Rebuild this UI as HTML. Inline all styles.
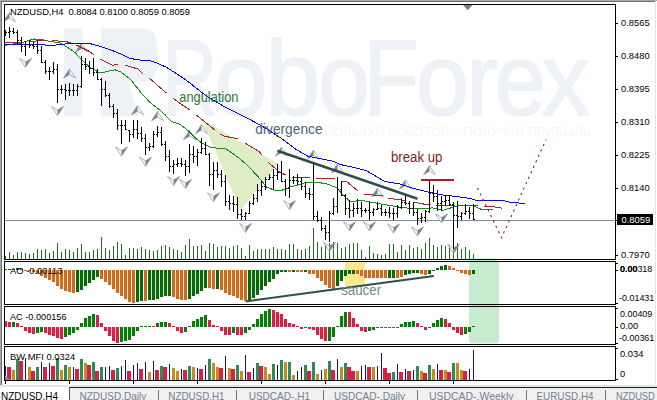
<!DOCTYPE html>
<html><head><meta charset="utf-8"><title>NZDUSD,H4</title>
<style>html,body{margin:0;padding:0;background:#fff;overflow:hidden}body{width:657px;height:400px;position:relative}</style>
</head><body>
<svg width="657" height="400" viewBox="0 0 657 400" style="display:block;position:absolute;left:0;top:0">
<rect x="0" y="0" width="657" height="400" fill="#fff"/>
<g fill="#eef1f5">
<rect x="64" y="28.5" width="18.5" height="87.5"/>
<path d="M101 28.5 H141 Q157 28.5 157 44.5 V66 Q157 82 141 82 H128 L139 116 H101 Z"/>
</g>
<g font-family="Liberation Sans, Arial, sans-serif" font-size="109.5" fill="#eef1f5" stroke="#eef1f5" stroke-width="1.6" stroke-linejoin="round">
<text transform="translate(162.52,115.2) scale(0.688,0.985)" x="0" y="0" vector-effect="non-scaling-stroke">R</text>
<text transform="translate(214.59,115.2) scale(0.873,0.93)" x="0" y="0" vector-effect="non-scaling-stroke">o</text>
<text transform="translate(265.59,115.2) scale(0.901,0.97)" x="0" y="0" vector-effect="non-scaling-stroke">b</text>
<text transform="translate(318.32,115.2) scale(0.844,0.93)" x="0" y="0" vector-effect="non-scaling-stroke">o</text>
<text transform="translate(363.55,115.2) scale(0.829,0.985)" x="0" y="0" vector-effect="non-scaling-stroke">F</text>
<text transform="translate(416.00,115.2) scale(0.869,0.93)" x="0" y="0" vector-effect="non-scaling-stroke">o</text>
<text transform="translate(466.54,115.2) scale(0.866,0.93)" x="0" y="0" vector-effect="non-scaling-stroke">r</text>
<text transform="translate(494.61,115.2) scale(0.845,0.93)" x="0" y="0" vector-effect="non-scaling-stroke">e</text>
<text transform="translate(541.65,115.2) scale(0.879,0.93)" x="0" y="0" vector-effect="non-scaling-stroke">x</text>
</g>
<text x="306" y="135.5" font-family="Liberation Sans, Arial, sans-serif" font-size="12.5" fill="#f5f6f9" textLength="285" lengthAdjust="spacingAndGlyphs">ИСПОЛЬЗУЙ РОБОТОВ – ПОЛУЧАЙ ПРИБЫЛЬ</text>
<polygon points="201.6,119.2 278,163.6 240.6,210.6" fill="#dfedc6"/>
<rect x="345" y="262" width="20" height="24.6" fill="#fde98c"/>
<rect x="469" y="258.4" width="30" height="85.2" rx="4" ry="4" fill="#c6ebcf"/>
<rect x="5" y="220" width="610" height="1" fill="#7a8da0"/>
<g fill="#1f6f1f" shape-rendering="crispEdges">
<rect x="5" y="256" width="1" height="3"/>
<rect x="9" y="252" width="1" height="7"/>
<rect x="13" y="255" width="1" height="4"/>
<rect x="17" y="252" width="1" height="7"/>
<rect x="21" y="252" width="1" height="7"/>
<rect x="25" y="253" width="1" height="6"/>
<rect x="29" y="254" width="1" height="5"/>
<rect x="33" y="253" width="1" height="6"/>
<rect x="37" y="249" width="1" height="10"/>
<rect x="41" y="250" width="1" height="9"/>
<rect x="45" y="249" width="1" height="10"/>
<rect x="49" y="253" width="1" height="6"/>
<rect x="53" y="251" width="1" height="8"/>
<rect x="57" y="243" width="1" height="16"/>
<rect x="61" y="252" width="1" height="7"/>
<rect x="65" y="249" width="1" height="10"/>
<rect x="69" y="250" width="1" height="9"/>
<rect x="73" y="252" width="1" height="7"/>
<rect x="77" y="248" width="1" height="11"/>
<rect x="81" y="244" width="1" height="15"/>
<rect x="85" y="252" width="1" height="7"/>
<rect x="89" y="252" width="1" height="7"/>
<rect x="93" y="250" width="1" height="9"/>
<rect x="97" y="249" width="1" height="10"/>
<rect x="101" y="237" width="1" height="22"/>
<rect x="105" y="248" width="1" height="11"/>
<rect x="109" y="250" width="1" height="9"/>
<rect x="113" y="246" width="1" height="13"/>
<rect x="117" y="242" width="1" height="17"/>
<rect x="121" y="244" width="1" height="15"/>
<rect x="125" y="255" width="1" height="4"/>
<rect x="129" y="248" width="1" height="11"/>
<rect x="133" y="248" width="1" height="11"/>
<rect x="137" y="249" width="1" height="10"/>
<rect x="141" y="247" width="1" height="12"/>
<rect x="145" y="249" width="1" height="10"/>
<rect x="149" y="250" width="1" height="9"/>
<rect x="153" y="251" width="1" height="8"/>
<rect x="157" y="250" width="1" height="9"/>
<rect x="161" y="246" width="1" height="13"/>
<rect x="165" y="245" width="1" height="14"/>
<rect x="169" y="247" width="1" height="12"/>
<rect x="173" y="249" width="1" height="10"/>
<rect x="177" y="250" width="1" height="9"/>
<rect x="181" y="252" width="1" height="7"/>
<rect x="185" y="245" width="1" height="14"/>
<rect x="189" y="239" width="1" height="20"/>
<rect x="193" y="246" width="1" height="13"/>
<rect x="197" y="246" width="1" height="13"/>
<rect x="201" y="245" width="1" height="14"/>
<rect x="205" y="251" width="1" height="8"/>
<rect x="209" y="243" width="1" height="16"/>
<rect x="213" y="244" width="1" height="15"/>
<rect x="217" y="247" width="1" height="12"/>
<rect x="221" y="246" width="1" height="13"/>
<rect x="225" y="246" width="1" height="13"/>
<rect x="229" y="248" width="1" height="11"/>
<rect x="233" y="246" width="1" height="13"/>
<rect x="237" y="245" width="1" height="14"/>
<rect x="241" y="248" width="1" height="11"/>
<rect x="245" y="256" width="1" height="3"/>
<rect x="249" y="245" width="1" height="14"/>
<rect x="253" y="251" width="1" height="8"/>
<rect x="257" y="249" width="1" height="10"/>
<rect x="261" y="249" width="1" height="10"/>
<rect x="265" y="249" width="1" height="10"/>
<rect x="269" y="249" width="1" height="10"/>
<rect x="273" y="247" width="1" height="12"/>
<rect x="277" y="249" width="1" height="10"/>
<rect x="281" y="249" width="1" height="10"/>
<rect x="285" y="250" width="1" height="9"/>
<rect x="289" y="244" width="1" height="15"/>
<rect x="293" y="244" width="1" height="15"/>
<rect x="297" y="249" width="1" height="10"/>
<rect x="301" y="250" width="1" height="9"/>
<rect x="305" y="249" width="1" height="10"/>
<rect x="309" y="246" width="1" height="13"/>
<rect x="313" y="228" width="1" height="31"/>
<rect x="317" y="242" width="1" height="17"/>
<rect x="321" y="247" width="1" height="12"/>
<rect x="325" y="245" width="1" height="14"/>
<rect x="329" y="243" width="1" height="16"/>
<rect x="333" y="242" width="1" height="17"/>
<rect x="337" y="243" width="1" height="16"/>
<rect x="341" y="248" width="1" height="11"/>
<rect x="345" y="247" width="1" height="12"/>
<rect x="349" y="244" width="1" height="15"/>
<rect x="353" y="243" width="1" height="16"/>
<rect x="357" y="243" width="1" height="16"/>
<rect x="361" y="250" width="1" height="9"/>
<rect x="365" y="257" width="1" height="2"/>
<rect x="369" y="246" width="1" height="13"/>
<rect x="373" y="253" width="1" height="6"/>
<rect x="377" y="254" width="1" height="5"/>
<rect x="381" y="255" width="1" height="4"/>
<rect x="385" y="254" width="1" height="5"/>
<rect x="389" y="244" width="1" height="15"/>
<rect x="393" y="244" width="1" height="15"/>
<rect x="397" y="252" width="1" height="7"/>
<rect x="401" y="245" width="1" height="14"/>
<rect x="405" y="250" width="1" height="9"/>
<rect x="409" y="245" width="1" height="14"/>
<rect x="413" y="248" width="1" height="11"/>
<rect x="417" y="247" width="1" height="12"/>
<rect x="421" y="249" width="1" height="10"/>
<rect x="425" y="243" width="1" height="16"/>
<rect x="429" y="238" width="1" height="21"/>
<rect x="433" y="245" width="1" height="14"/>
<rect x="437" y="247" width="1" height="12"/>
<rect x="441" y="245" width="1" height="14"/>
<rect x="445" y="246" width="1" height="13"/>
<rect x="449" y="245" width="1" height="14"/>
<rect x="453" y="243" width="1" height="16"/>
<rect x="457" y="243" width="1" height="16"/>
<rect x="461" y="249" width="1" height="10"/>
<rect x="465" y="247" width="1" height="12"/>
<rect x="469" y="250" width="1" height="9"/>
<rect x="473" y="254" width="1" height="5"/>
</g>
<clipPath id="cc"><rect x="5" y="5" width="610" height="254"/></clipPath><g clip-path="url(#cc)">
<polygon points="9.5,12.5 15.5,21.6 9.5,18.1" fill="#f7f8fa"/><polygon points="9.5,12.5 3.5,21.6 9.5,18.1" fill="#7c8089"/><polygon points="9.5,12.5 3.5,21.6 9.5,18.1 15.5,21.6" fill="none" stroke="#80848e" stroke-width="0.6" stroke-linejoin="round"/>
<polygon points="69.5,69 75.5,78.1 69.5,74.6" fill="#f7f8fa"/><polygon points="69.5,69 63.5,78.1 69.5,74.6" fill="#7c8089"/><polygon points="69.5,69 63.5,78.1 69.5,74.6 75.5,78.1" fill="none" stroke="#80848e" stroke-width="0.6" stroke-linejoin="round"/>
<polygon points="81.5,43 87.5,52.1 81.5,48.6" fill="#f7f8fa"/><polygon points="81.5,43 75.5,52.1 81.5,48.6" fill="#7c8089"/><polygon points="81.5,43 75.5,52.1 81.5,48.6 87.5,52.1" fill="none" stroke="#80848e" stroke-width="0.6" stroke-linejoin="round"/>
<polygon points="137.5,105.6 143.5,114.69999999999999 137.5,111.19999999999999" fill="#f7f8fa"/><polygon points="137.5,105.6 131.5,114.69999999999999 137.5,111.19999999999999" fill="#7c8089"/><polygon points="137.5,105.6 131.5,114.69999999999999 137.5,111.19999999999999 143.5,114.69999999999999" fill="none" stroke="#80848e" stroke-width="0.6" stroke-linejoin="round"/>
<polygon points="157.5,111.6 163.5,120.69999999999999 157.5,117.19999999999999" fill="#f7f8fa"/><polygon points="157.5,111.6 151.5,120.69999999999999 157.5,117.19999999999999" fill="#7c8089"/><polygon points="157.5,111.6 151.5,120.69999999999999 157.5,117.19999999999999 163.5,120.69999999999999" fill="none" stroke="#80848e" stroke-width="0.6" stroke-linejoin="round"/>
<polygon points="189.5,130.5 195.5,139.6 189.5,136.1" fill="#f7f8fa"/><polygon points="189.5,130.5 183.5,139.6 189.5,136.1" fill="#7c8089"/><polygon points="189.5,130.5 183.5,139.6 189.5,136.1 195.5,139.6" fill="none" stroke="#80848e" stroke-width="0.6" stroke-linejoin="round"/>
<polygon points="201.5,124.5 207.5,133.6 201.5,130.1" fill="#f7f8fa"/><polygon points="201.5,124.5 195.5,133.6 201.5,130.1" fill="#7c8089"/><polygon points="201.5,124.5 195.5,133.6 201.5,130.1 207.5,133.6" fill="none" stroke="#80848e" stroke-width="0.6" stroke-linejoin="round"/>
<polygon points="281.5,147 287.5,156.1 281.5,152.6" fill="#f7f8fa"/><polygon points="281.5,147 275.5,156.1 281.5,152.6" fill="#7c8089"/><polygon points="281.5,147 275.5,156.1 281.5,152.6 287.5,156.1" fill="none" stroke="#80848e" stroke-width="0.6" stroke-linejoin="round"/>
<polygon points="313.5,150 319.5,159.1 313.5,155.6" fill="#f7f8fa"/><polygon points="313.5,150 307.5,159.1 313.5,155.6" fill="#7c8089"/><polygon points="313.5,150 307.5,159.1 313.5,155.6 319.5,159.1" fill="none" stroke="#80848e" stroke-width="0.6" stroke-linejoin="round"/>
<polygon points="337.5,163.7 343.5,172.79999999999998 337.5,169.29999999999998" fill="#f7f8fa"/><polygon points="337.5,163.7 331.5,172.79999999999998 337.5,169.29999999999998" fill="#7c8089"/><polygon points="337.5,163.7 331.5,172.79999999999998 337.5,169.29999999999998 343.5,172.79999999999998" fill="none" stroke="#80848e" stroke-width="0.6" stroke-linejoin="round"/>
<polygon points="377.5,188 383.5,197.1 377.5,193.6" fill="#f7f8fa"/><polygon points="377.5,188 371.5,197.1 377.5,193.6" fill="#7c8089"/><polygon points="377.5,188 371.5,197.1 377.5,193.6 383.5,197.1" fill="none" stroke="#80848e" stroke-width="0.6" stroke-linejoin="round"/>
<polygon points="405.5,179.8 411.5,188.9 405.5,185.4" fill="#f7f8fa"/><polygon points="405.5,179.8 399.5,188.9 405.5,185.4" fill="#7c8089"/><polygon points="405.5,179.8 399.5,188.9 405.5,185.4 411.5,188.9" fill="none" stroke="#80848e" stroke-width="0.6" stroke-linejoin="round"/>
<polygon points="429.5,165.6 435.5,174.7 429.5,171.2" fill="#f7f8fa"/><polygon points="429.5,165.6 423.5,174.7 429.5,171.2" fill="#7c8089"/><polygon points="429.5,165.6 423.5,174.7 429.5,171.2 435.5,174.7" fill="none" stroke="#80848e" stroke-width="0.6" stroke-linejoin="round"/>
<polygon points="25.5,67.5 19.5,58.4 25.5,61.9" fill="#f7f8fa"/><polygon points="25.5,67.5 31.5,58.4 25.5,61.9" fill="#7c8089"/><polygon points="25.5,67.5 19.5,58.4 25.5,61.9 31.5,58.4" fill="none" stroke="#80848e" stroke-width="0.6" stroke-linejoin="round"/>
<polygon points="57.5,115.6 51.5,106.5 57.5,110.0" fill="#f7f8fa"/><polygon points="57.5,115.6 63.5,106.5 57.5,110.0" fill="#7c8089"/><polygon points="57.5,115.6 51.5,106.5 57.5,110.0 63.5,106.5" fill="none" stroke="#80848e" stroke-width="0.6" stroke-linejoin="round"/>
<polygon points="121.5,156.1 115.5,147.0 121.5,150.5" fill="#f7f8fa"/><polygon points="121.5,156.1 127.5,147.0 121.5,150.5" fill="#7c8089"/><polygon points="121.5,156.1 115.5,147.0 121.5,150.5 127.5,147.0" fill="none" stroke="#80848e" stroke-width="0.6" stroke-linejoin="round"/>
<polygon points="145.5,166.3 139.5,157.20000000000002 145.5,160.70000000000002" fill="#f7f8fa"/><polygon points="145.5,166.3 151.5,157.20000000000002 145.5,160.70000000000002" fill="#7c8089"/><polygon points="145.5,166.3 139.5,157.20000000000002 145.5,160.70000000000002 151.5,157.20000000000002" fill="none" stroke="#80848e" stroke-width="0.6" stroke-linejoin="round"/>
<polygon points="173.5,185.5 167.5,176.4 173.5,179.9" fill="#f7f8fa"/><polygon points="173.5,185.5 179.5,176.4 173.5,179.9" fill="#7c8089"/><polygon points="173.5,185.5 167.5,176.4 173.5,179.9 179.5,176.4" fill="none" stroke="#80848e" stroke-width="0.6" stroke-linejoin="round"/>
<polygon points="185.5,188.5 179.5,179.4 185.5,182.9" fill="#f7f8fa"/><polygon points="185.5,188.5 191.5,179.4 185.5,182.9" fill="#7c8089"/><polygon points="185.5,188.5 179.5,179.4 185.5,182.9 191.5,179.4" fill="none" stroke="#80848e" stroke-width="0.6" stroke-linejoin="round"/>
<polygon points="213.5,201.8 207.5,192.70000000000002 213.5,196.20000000000002" fill="#f7f8fa"/><polygon points="213.5,201.8 219.5,192.70000000000002 213.5,196.20000000000002" fill="#7c8089"/><polygon points="213.5,201.8 207.5,192.70000000000002 213.5,196.20000000000002 219.5,192.70000000000002" fill="none" stroke="#80848e" stroke-width="0.6" stroke-linejoin="round"/>
<polygon points="245.5,232.5 239.5,223.4 245.5,226.9" fill="#f7f8fa"/><polygon points="245.5,232.5 251.5,223.4 245.5,226.9" fill="#7c8089"/><polygon points="245.5,232.5 239.5,223.4 245.5,226.9 251.5,223.4" fill="none" stroke="#80848e" stroke-width="0.6" stroke-linejoin="round"/>
<polygon points="289.5,209.7 283.5,200.6 289.5,204.1" fill="#f7f8fa"/><polygon points="289.5,209.7 295.5,200.6 289.5,204.1" fill="#7c8089"/><polygon points="289.5,209.7 283.5,200.6 289.5,204.1 295.5,200.6" fill="none" stroke="#80848e" stroke-width="0.6" stroke-linejoin="round"/>
<polygon points="329.5,251.5 323.5,242.4 329.5,245.9" fill="#f7f8fa"/><polygon points="329.5,251.5 335.5,242.4 329.5,245.9" fill="#7c8089"/><polygon points="329.5,251.5 323.5,242.4 329.5,245.9 335.5,242.4" fill="none" stroke="#80848e" stroke-width="0.6" stroke-linejoin="round"/>
<polygon points="349.5,231 343.5,221.9 349.5,225.4" fill="#f7f8fa"/><polygon points="349.5,231 355.5,221.9 349.5,225.4" fill="#7c8089"/><polygon points="349.5,231 343.5,221.9 349.5,225.4 355.5,221.9" fill="none" stroke="#80848e" stroke-width="0.6" stroke-linejoin="round"/>
<polygon points="369.5,231 363.5,221.9 369.5,225.4" fill="#f7f8fa"/><polygon points="369.5,231 375.5,221.9 369.5,225.4" fill="#7c8089"/><polygon points="369.5,231 363.5,221.9 369.5,225.4 375.5,221.9" fill="none" stroke="#80848e" stroke-width="0.6" stroke-linejoin="round"/>
<polygon points="393.5,233 387.5,223.9 393.5,227.4" fill="#f7f8fa"/><polygon points="393.5,233 399.5,223.9 393.5,227.4" fill="#7c8089"/><polygon points="393.5,233 387.5,223.9 393.5,227.4 399.5,223.9" fill="none" stroke="#80848e" stroke-width="0.6" stroke-linejoin="round"/>
<polygon points="417.5,236 411.5,226.9 417.5,230.4" fill="#f7f8fa"/><polygon points="417.5,236 423.5,226.9 417.5,230.4" fill="#7c8089"/><polygon points="417.5,236 411.5,226.9 417.5,230.4 423.5,226.9" fill="none" stroke="#80848e" stroke-width="0.6" stroke-linejoin="round"/>
<polygon points="441.5,223 435.5,213.9 441.5,217.4" fill="#f7f8fa"/><polygon points="441.5,223 447.5,213.9 441.5,217.4" fill="#7c8089"/><polygon points="441.5,223 435.5,213.9 441.5,217.4 447.5,213.9" fill="none" stroke="#80848e" stroke-width="0.6" stroke-linejoin="round"/>
<polygon points="453.5,253.5 447.5,244.4 453.5,247.9" fill="#f7f8fa"/><polygon points="453.5,253.5 459.5,244.4 453.5,247.9" fill="#7c8089"/><polygon points="453.5,253.5 447.5,244.4 453.5,247.9 459.5,244.4" fill="none" stroke="#80848e" stroke-width="0.6" stroke-linejoin="round"/>
</g>
<polyline points="5.3,45.8 9,44.3 19.5,43.5 28.5,40.5 34.5,39 40.5,39.3 49.5,41.3 60,42.8 67.5,47.3 75,52.5 80,58 89.1,66.7 98.3,72.1 104.4,72.1 115,69.8 121.1,72.1 130.2,78.9 140.9,92.6 150,102.5 159.1,109.4 165,114.7 171.3,121.3 180,124.4 187.3,130 195.7,138.4 201.8,142.9 210.9,147.5 226.1,149 235.2,155.1 244.4,162.7 250,168 260.9,179.8 267,187.4 274.6,190.1 282.2,190.1 291.3,186.6 300,184.4 302.2,183.2 315.9,182 328,184.2 337.2,188 343.3,195.7 350.9,201.8 361.5,200.2 369.1,201.8 381.3,204 390,205.6 405.2,207.9 420.4,209 432.6,207.9 443.3,210.2 450.9,207.9 458.5,205.7 468.1,205.2 473.8,206 479.5,208.9 486,209.6 493.3,209.6" fill="none" stroke="#1a8a1a" stroke-width="1" shape-rendering="crispEdges"/>
<polyline points="5.3,42.5 12,42.8 22.5,42.3" fill="none" stroke="#a3262a" stroke-width="1" shape-rendering="crispEdges"/>
<polyline points="28.5,42.1 30,42 39,40.5 45,40.8 46.5,40.6" fill="none" stroke="#a3262a" stroke-width="1" shape-rendering="crispEdges"/>
<polyline points="52.5,40.4 67.5,42 70.5,43.0" fill="none" stroke="#a3262a" stroke-width="1" shape-rendering="crispEdges"/>
<polyline points="76.5,45.2 78,45.8 90,51.8 94.5,55.2" fill="none" stroke="#a3262a" stroke-width="1" shape-rendering="crispEdges"/>
<polyline points="100.5,59.4 112.7,65.2 118.5,64.5" fill="none" stroke="#a3262a" stroke-width="1" shape-rendering="crispEdges"/>
<polyline points="124.5,65.2 124.9,65.2 137.8,69 142.4,73.6 142.5,73.7" fill="none" stroke="#a3262a" stroke-width="1" shape-rendering="crispEdges"/>
<polyline points="148.5,77.7 149.3,78.2 166.5,93.1" fill="none" stroke="#a3262a" stroke-width="1" shape-rendering="crispEdges"/>
<polyline points="172.5,97.8 172.8,98 180,103.3 190.1,110.1 190.5,110.4" fill="none" stroke="#a3262a" stroke-width="1" shape-rendering="crispEdges"/>
<polyline points="196.5,115.2 197,115.6 210.7,126.6 214.5,129.8" fill="none" stroke="#a3262a" stroke-width="1" shape-rendering="crispEdges"/>
<polyline points="220.5,134.2 224.4,136.2 238.1,138.9 238.5,139.1" fill="none" stroke="#a3262a" stroke-width="1" shape-rendering="crispEdges"/>
<polyline points="244.5,142.8 244.9,143 250,146.2 259.1,151.5 262.5,155.4" fill="none" stroke="#a3262a" stroke-width="1" shape-rendering="crispEdges"/>
<polyline points="268.5,162.2 269.8,163.7 280.4,172.8 286.5,175.1" fill="none" stroke="#a3262a" stroke-width="1" shape-rendering="crispEdges"/>
<polyline points="292.5,177.4 292.8,177.5 300,178 310.5,177.4" fill="none" stroke="#a3262a" stroke-width="1" shape-rendering="crispEdges"/>
<polyline points="316.5,178.1 317.4,178.2 334.1,178.9 334.5,179.0" fill="none" stroke="#a3262a" stroke-width="1" shape-rendering="crispEdges"/>
<polyline points="340.5,180.8 341.8,181.2 346.3,181.2 358.5,191.4" fill="none" stroke="#a3262a" stroke-width="1" shape-rendering="crispEdges"/>
<polyline points="364.5,194.0 365.3,194.4 382.5,195.7" fill="none" stroke="#a3262a" stroke-width="1" shape-rendering="crispEdges"/>
<polyline points="388.5,198.1 389.1,198.4 399,199.6 405.2,201.1 406.5,201.2" fill="none" stroke="#a3262a" stroke-width="1" shape-rendering="crispEdges"/>
<polyline points="412.5,201.9 412.8,201.9 428,204.9 430.5,205.0" fill="none" stroke="#a3262a" stroke-width="1" shape-rendering="crispEdges"/>
<polyline points="436.5,205.3 438.7,205.4 450.9,205.7 454.5,205.7" fill="none" stroke="#a3262a" stroke-width="1" shape-rendering="crispEdges"/>
<polyline points="460.5,205.7 461.5,205.7 478.5,205.2" fill="none" stroke="#a3262a" stroke-width="1" shape-rendering="crispEdges"/>
<polyline points="484.5,206.1 486,206.3 498.2,207.3 502.5,208.4" fill="none" stroke="#a3262a" stroke-width="1" shape-rendering="crispEdges"/>
<polyline points="5,44.5 30,44.7 54,45.2 60,44.5 72,43.3 83,43.2 90,43.6 100.5,46.5 111.2,50 120.6,54 129.5,58.4 140,60 148.5,60 157,63 166.8,67.5 180,75.9 186,80 205.2,95.1 223,106 242.2,115.6 250,119.6 265.2,127.9 280.4,137.8 295.7,149.2 307.8,156.1 318.5,158.4 333.7,161.4 340.2,164.5 353.9,167.5 366.1,170.5 375.2,175.9 384.4,181.2 390,182.5 399.1,183.6 412.8,188.2 428,192 443.3,195 458.5,196.8 471.4,198.7 476.3,200.3 502.3,200.3 508.8,202 525,203.6" fill="none" stroke="#0a0ae0" stroke-width="1" shape-rendering="crispEdges"/>
<g fill="#000" shape-rendering="crispEdges">
<rect x="5" y="30" width="1" height="6"/>
<rect x="4" y="32" width="1" height="1"/>
<rect x="6" y="32" width="1" height="1"/>
<rect x="9" y="27" width="1" height="11"/>
<rect x="8" y="32" width="1" height="1"/>
<rect x="10" y="31" width="1" height="1"/>
<rect x="13" y="28" width="1" height="6"/>
<rect x="12" y="31" width="1" height="1"/>
<rect x="14" y="32" width="1" height="1"/>
<rect x="17" y="30" width="1" height="14"/>
<rect x="16" y="32" width="1" height="1"/>
<rect x="18" y="40" width="1" height="1"/>
<rect x="21" y="37" width="1" height="15"/>
<rect x="20" y="40" width="1" height="1"/>
<rect x="22" y="46" width="1" height="1"/>
<rect x="25" y="41" width="1" height="15"/>
<rect x="24" y="46" width="1" height="1"/>
<rect x="26" y="44" width="1" height="1"/>
<rect x="29" y="40" width="1" height="8"/>
<rect x="28" y="44" width="1" height="1"/>
<rect x="30" y="45" width="1" height="1"/>
<rect x="33" y="42" width="1" height="7"/>
<rect x="32" y="45" width="1" height="1"/>
<rect x="34" y="46" width="1" height="1"/>
<rect x="37" y="40" width="1" height="14"/>
<rect x="36" y="46" width="1" height="1"/>
<rect x="38" y="50" width="1" height="1"/>
<rect x="41" y="46" width="1" height="17"/>
<rect x="40" y="50" width="1" height="1"/>
<rect x="42" y="62" width="1" height="1"/>
<rect x="45" y="60" width="1" height="14"/>
<rect x="44" y="62" width="1" height="1"/>
<rect x="46" y="71" width="1" height="1"/>
<rect x="49" y="67" width="1" height="13"/>
<rect x="48" y="71" width="1" height="1"/>
<rect x="50" y="71" width="1" height="1"/>
<rect x="53" y="62" width="1" height="12"/>
<rect x="52" y="71" width="1" height="1"/>
<rect x="54" y="69" width="1" height="1"/>
<rect x="57" y="64" width="1" height="39"/>
<rect x="56" y="69" width="1" height="1"/>
<rect x="58" y="89" width="1" height="1"/>
<rect x="61" y="85" width="1" height="9"/>
<rect x="60" y="89" width="1" height="1"/>
<rect x="62" y="89" width="1" height="1"/>
<rect x="65" y="84" width="1" height="16"/>
<rect x="64" y="89" width="1" height="1"/>
<rect x="66" y="90" width="1" height="1"/>
<rect x="69" y="83" width="1" height="13"/>
<rect x="68" y="90" width="1" height="1"/>
<rect x="70" y="90" width="1" height="1"/>
<rect x="73" y="84" width="1" height="12"/>
<rect x="72" y="90" width="1" height="1"/>
<rect x="74" y="90" width="1" height="1"/>
<rect x="77" y="84" width="1" height="12"/>
<rect x="76" y="90" width="1" height="1"/>
<rect x="78" y="86" width="1" height="1"/>
<rect x="81" y="56" width="1" height="32"/>
<rect x="80" y="86" width="1" height="1"/>
<rect x="82" y="64" width="1" height="1"/>
<rect x="85" y="58" width="1" height="12"/>
<rect x="84" y="64" width="1" height="1"/>
<rect x="86" y="66" width="1" height="1"/>
<rect x="89" y="61" width="1" height="13"/>
<rect x="88" y="66" width="1" height="1"/>
<rect x="90" y="68" width="1" height="1"/>
<rect x="93" y="58" width="1" height="18"/>
<rect x="92" y="68" width="1" height="1"/>
<rect x="94" y="72" width="1" height="1"/>
<rect x="97" y="69" width="1" height="11"/>
<rect x="96" y="72" width="1" height="1"/>
<rect x="98" y="79" width="1" height="1"/>
<rect x="101" y="78" width="1" height="28"/>
<rect x="100" y="79" width="1" height="1"/>
<rect x="102" y="89" width="1" height="1"/>
<rect x="105" y="81" width="1" height="16"/>
<rect x="104" y="89" width="1" height="1"/>
<rect x="106" y="95" width="1" height="1"/>
<rect x="109" y="93" width="1" height="15"/>
<rect x="108" y="95" width="1" height="1"/>
<rect x="110" y="106" width="1" height="1"/>
<rect x="113" y="104" width="1" height="14"/>
<rect x="112" y="106" width="1" height="1"/>
<rect x="114" y="113" width="1" height="1"/>
<rect x="117" y="109" width="1" height="21"/>
<rect x="116" y="113" width="1" height="1"/>
<rect x="118" y="125" width="1" height="1"/>
<rect x="121" y="120" width="1" height="24"/>
<rect x="120" y="125" width="1" height="1"/>
<rect x="122" y="125" width="1" height="1"/>
<rect x="125" y="120" width="1" height="10"/>
<rect x="124" y="125" width="1" height="1"/>
<rect x="126" y="129" width="1" height="1"/>
<rect x="129" y="130" width="1" height="12"/>
<rect x="128" y="130" width="1" height="1"/>
<rect x="130" y="134" width="1" height="1"/>
<rect x="133" y="120" width="1" height="18"/>
<rect x="132" y="134" width="1" height="1"/>
<rect x="134" y="129" width="1" height="1"/>
<rect x="137" y="120" width="1" height="19"/>
<rect x="136" y="129" width="1" height="1"/>
<rect x="138" y="133" width="1" height="1"/>
<rect x="141" y="127" width="1" height="15"/>
<rect x="140" y="133" width="1" height="1"/>
<rect x="142" y="138" width="1" height="1"/>
<rect x="145" y="134" width="1" height="21"/>
<rect x="144" y="138" width="1" height="1"/>
<rect x="146" y="147" width="1" height="1"/>
<rect x="149" y="143" width="1" height="8"/>
<rect x="148" y="147" width="1" height="1"/>
<rect x="150" y="146" width="1" height="1"/>
<rect x="153" y="131" width="1" height="17"/>
<rect x="152" y="146" width="1" height="1"/>
<rect x="154" y="134" width="1" height="1"/>
<rect x="157" y="126" width="1" height="11"/>
<rect x="156" y="134" width="1" height="1"/>
<rect x="158" y="132" width="1" height="1"/>
<rect x="161" y="127" width="1" height="19"/>
<rect x="160" y="132" width="1" height="1"/>
<rect x="162" y="144" width="1" height="1"/>
<rect x="165" y="141" width="1" height="20"/>
<rect x="164" y="144" width="1" height="1"/>
<rect x="166" y="156" width="1" height="1"/>
<rect x="169" y="150" width="1" height="22"/>
<rect x="168" y="156" width="1" height="1"/>
<rect x="170" y="166" width="1" height="1"/>
<rect x="173" y="160" width="1" height="14"/>
<rect x="172" y="166" width="1" height="1"/>
<rect x="174" y="164" width="1" height="1"/>
<rect x="177" y="158" width="1" height="9"/>
<rect x="176" y="164" width="1" height="1"/>
<rect x="178" y="163" width="1" height="1"/>
<rect x="181" y="158" width="1" height="9"/>
<rect x="180" y="163" width="1" height="1"/>
<rect x="182" y="164" width="1" height="1"/>
<rect x="185" y="160" width="1" height="16"/>
<rect x="184" y="164" width="1" height="1"/>
<rect x="186" y="166" width="1" height="1"/>
<rect x="189" y="144" width="1" height="29"/>
<rect x="188" y="166" width="1" height="1"/>
<rect x="190" y="154" width="1" height="1"/>
<rect x="193" y="146" width="1" height="17"/>
<rect x="192" y="154" width="1" height="1"/>
<rect x="194" y="156" width="1" height="1"/>
<rect x="197" y="149" width="1" height="17"/>
<rect x="196" y="156" width="1" height="1"/>
<rect x="198" y="152" width="1" height="1"/>
<rect x="201" y="138" width="1" height="16"/>
<rect x="200" y="152" width="1" height="1"/>
<rect x="202" y="148" width="1" height="1"/>
<rect x="205" y="142" width="1" height="13"/>
<rect x="204" y="148" width="1" height="1"/>
<rect x="206" y="154" width="1" height="1"/>
<rect x="209" y="153" width="1" height="33"/>
<rect x="208" y="154" width="1" height="1"/>
<rect x="210" y="174" width="1" height="1"/>
<rect x="213" y="162" width="1" height="28"/>
<rect x="212" y="174" width="1" height="1"/>
<rect x="214" y="170" width="1" height="1"/>
<rect x="217" y="162" width="1" height="16"/>
<rect x="216" y="170" width="1" height="1"/>
<rect x="218" y="174" width="1" height="1"/>
<rect x="221" y="170" width="1" height="17"/>
<rect x="220" y="174" width="1" height="1"/>
<rect x="222" y="181" width="1" height="1"/>
<rect x="225" y="175" width="1" height="31"/>
<rect x="224" y="181" width="1" height="1"/>
<rect x="226" y="201" width="1" height="1"/>
<rect x="229" y="195" width="1" height="15"/>
<rect x="228" y="201" width="1" height="1"/>
<rect x="230" y="203" width="1" height="1"/>
<rect x="233" y="196" width="1" height="16"/>
<rect x="232" y="203" width="1" height="1"/>
<rect x="234" y="204" width="1" height="1"/>
<rect x="237" y="197" width="1" height="22"/>
<rect x="236" y="204" width="1" height="1"/>
<rect x="238" y="214" width="1" height="1"/>
<rect x="241" y="209" width="1" height="11"/>
<rect x="240" y="214" width="1" height="1"/>
<rect x="242" y="216" width="1" height="1"/>
<rect x="245" y="212" width="1" height="8"/>
<rect x="244" y="216" width="1" height="1"/>
<rect x="246" y="213" width="1" height="1"/>
<rect x="249" y="201" width="1" height="13"/>
<rect x="248" y="213" width="1" height="1"/>
<rect x="250" y="203" width="1" height="1"/>
<rect x="253" y="194" width="1" height="11"/>
<rect x="252" y="203" width="1" height="1"/>
<rect x="254" y="198" width="1" height="1"/>
<rect x="257" y="184" width="1" height="18"/>
<rect x="256" y="198" width="1" height="1"/>
<rect x="258" y="190" width="1" height="1"/>
<rect x="261" y="181" width="1" height="15"/>
<rect x="260" y="190" width="1" height="1"/>
<rect x="262" y="186" width="1" height="1"/>
<rect x="265" y="177" width="1" height="13"/>
<rect x="264" y="186" width="1" height="1"/>
<rect x="266" y="179" width="1" height="1"/>
<rect x="269" y="174" width="1" height="6"/>
<rect x="268" y="179" width="1" height="1"/>
<rect x="270" y="177" width="1" height="1"/>
<rect x="273" y="169" width="1" height="21"/>
<rect x="272" y="177" width="1" height="1"/>
<rect x="274" y="175" width="1" height="1"/>
<rect x="277" y="164" width="1" height="16"/>
<rect x="276" y="175" width="1" height="1"/>
<rect x="278" y="172" width="1" height="1"/>
<rect x="281" y="161" width="1" height="21"/>
<rect x="280" y="172" width="1" height="1"/>
<rect x="282" y="181" width="1" height="1"/>
<rect x="285" y="179" width="1" height="17"/>
<rect x="284" y="181" width="1" height="1"/>
<rect x="286" y="188" width="1" height="1"/>
<rect x="289" y="169" width="1" height="29"/>
<rect x="288" y="188" width="1" height="1"/>
<rect x="290" y="180" width="1" height="1"/>
<rect x="293" y="176" width="1" height="8"/>
<rect x="292" y="180" width="1" height="1"/>
<rect x="294" y="180" width="1" height="1"/>
<rect x="297" y="174" width="1" height="11"/>
<rect x="296" y="180" width="1" height="1"/>
<rect x="298" y="181" width="1" height="1"/>
<rect x="301" y="177" width="1" height="13"/>
<rect x="300" y="181" width="1" height="1"/>
<rect x="302" y="186" width="1" height="1"/>
<rect x="305" y="182" width="1" height="16"/>
<rect x="304" y="186" width="1" height="1"/>
<rect x="306" y="193" width="1" height="1"/>
<rect x="309" y="188" width="1" height="12"/>
<rect x="308" y="193" width="1" height="1"/>
<rect x="310" y="194" width="1" height="1"/>
<rect x="313" y="164" width="1" height="56"/>
<rect x="312" y="194" width="1" height="1"/>
<rect x="314" y="216" width="1" height="1"/>
<rect x="317" y="211" width="1" height="11"/>
<rect x="316" y="216" width="1" height="1"/>
<rect x="318" y="220" width="1" height="1"/>
<rect x="321" y="217" width="1" height="14"/>
<rect x="320" y="220" width="1" height="1"/>
<rect x="322" y="228" width="1" height="1"/>
<rect x="325" y="225" width="1" height="15"/>
<rect x="324" y="228" width="1" height="1"/>
<rect x="326" y="232" width="1" height="1"/>
<rect x="329" y="211" width="1" height="31"/>
<rect x="328" y="232" width="1" height="1"/>
<rect x="330" y="213" width="1" height="1"/>
<rect x="333" y="198" width="1" height="17"/>
<rect x="332" y="213" width="1" height="1"/>
<rect x="334" y="206" width="1" height="1"/>
<rect x="337" y="177" width="1" height="36"/>
<rect x="336" y="206" width="1" height="1"/>
<rect x="338" y="189" width="1" height="1"/>
<rect x="341" y="181" width="1" height="15"/>
<rect x="340" y="189" width="1" height="1"/>
<rect x="342" y="195" width="1" height="1"/>
<rect x="345" y="194" width="1" height="21"/>
<rect x="344" y="195" width="1" height="1"/>
<rect x="346" y="208" width="1" height="1"/>
<rect x="349" y="200" width="1" height="18"/>
<rect x="348" y="208" width="1" height="1"/>
<rect x="350" y="210" width="1" height="1"/>
<rect x="353" y="203" width="1" height="14"/>
<rect x="352" y="210" width="1" height="1"/>
<rect x="354" y="208" width="1" height="1"/>
<rect x="357" y="199" width="1" height="15"/>
<rect x="356" y="208" width="1" height="1"/>
<rect x="358" y="208" width="1" height="1"/>
<rect x="361" y="202" width="1" height="15"/>
<rect x="360" y="208" width="1" height="1"/>
<rect x="362" y="210" width="1" height="1"/>
<rect x="365" y="208" width="1" height="5"/>
<rect x="364" y="210" width="1" height="1"/>
<rect x="366" y="210" width="1" height="1"/>
<rect x="369" y="202" width="1" height="18"/>
<rect x="368" y="210" width="1" height="1"/>
<rect x="370" y="212" width="1" height="1"/>
<rect x="373" y="208" width="1" height="8"/>
<rect x="372" y="212" width="1" height="1"/>
<rect x="374" y="209" width="1" height="1"/>
<rect x="377" y="202" width="1" height="8"/>
<rect x="376" y="209" width="1" height="1"/>
<rect x="378" y="208" width="1" height="1"/>
<rect x="381" y="205" width="1" height="11"/>
<rect x="380" y="208" width="1" height="1"/>
<rect x="382" y="212" width="1" height="1"/>
<rect x="385" y="209" width="1" height="7"/>
<rect x="384" y="212" width="1" height="1"/>
<rect x="386" y="212" width="1" height="1"/>
<rect x="389" y="207" width="1" height="11"/>
<rect x="388" y="212" width="1" height="1"/>
<rect x="390" y="213" width="1" height="1"/>
<rect x="393" y="208" width="1" height="12"/>
<rect x="392" y="213" width="1" height="1"/>
<rect x="394" y="213" width="1" height="1"/>
<rect x="397" y="205" width="1" height="13"/>
<rect x="396" y="213" width="1" height="1"/>
<rect x="398" y="207" width="1" height="1"/>
<rect x="401" y="198" width="1" height="11"/>
<rect x="400" y="207" width="1" height="1"/>
<rect x="402" y="202" width="1" height="1"/>
<rect x="405" y="195" width="1" height="10"/>
<rect x="404" y="202" width="1" height="1"/>
<rect x="406" y="203" width="1" height="1"/>
<rect x="409" y="201" width="1" height="13"/>
<rect x="408" y="203" width="1" height="1"/>
<rect x="410" y="208" width="1" height="1"/>
<rect x="413" y="202" width="1" height="14"/>
<rect x="412" y="208" width="1" height="1"/>
<rect x="414" y="212" width="1" height="1"/>
<rect x="417" y="209" width="1" height="16"/>
<rect x="416" y="212" width="1" height="1"/>
<rect x="418" y="218" width="1" height="1"/>
<rect x="421" y="213" width="1" height="10"/>
<rect x="420" y="218" width="1" height="1"/>
<rect x="422" y="217" width="1" height="1"/>
<rect x="425" y="210" width="1" height="12"/>
<rect x="424" y="217" width="1" height="1"/>
<rect x="426" y="211" width="1" height="1"/>
<rect x="429" y="180" width="1" height="33"/>
<rect x="428" y="211" width="1" height="1"/>
<rect x="430" y="193" width="1" height="1"/>
<rect x="433" y="185" width="1" height="17"/>
<rect x="432" y="193" width="1" height="1"/>
<rect x="434" y="196" width="1" height="1"/>
<rect x="437" y="190" width="1" height="21"/>
<rect x="436" y="196" width="1" height="1"/>
<rect x="438" y="203" width="1" height="1"/>
<rect x="441" y="196" width="1" height="15"/>
<rect x="440" y="203" width="1" height="1"/>
<rect x="442" y="201" width="1" height="1"/>
<rect x="445" y="195" width="1" height="11"/>
<rect x="444" y="201" width="1" height="1"/>
<rect x="446" y="200" width="1" height="1"/>
<rect x="449" y="195" width="1" height="11"/>
<rect x="448" y="200" width="1" height="1"/>
<rect x="450" y="204" width="1" height="1"/>
<rect x="453" y="202" width="1" height="47"/>
<rect x="452" y="204" width="1" height="1"/>
<rect x="454" y="215" width="1" height="1"/>
<rect x="457" y="201" width="1" height="27"/>
<rect x="456" y="215" width="1" height="1"/>
<rect x="458" y="216" width="1" height="1"/>
<rect x="461" y="212" width="1" height="8"/>
<rect x="460" y="216" width="1" height="1"/>
<rect x="462" y="213" width="1" height="1"/>
<rect x="465" y="204" width="1" height="11"/>
<rect x="464" y="213" width="1" height="1"/>
<rect x="466" y="211" width="1" height="1"/>
<rect x="469" y="207" width="1" height="12"/>
<rect x="468" y="211" width="1" height="1"/>
<rect x="470" y="213" width="1" height="1"/>
<rect x="473" y="204" width="1" height="16"/>
<rect x="472" y="213" width="1" height="1"/>
<rect x="474" y="219" width="1" height="1"/>
</g>
<line x1="277.4" y1="150.8" x2="417.4" y2="198.8" stroke="#2f4f4f" stroke-width="2.5"/>
<rect x="421" y="179" width="33" height="2" fill="#a81e22"/>
<polyline points="477.5,188 501.5,237.7 546.1,139.5" fill="none" stroke="#7d1c1c" stroke-width="1.05" stroke-dasharray="2.2 3.8"/>
<text x="179.3" y="101.6" font-family="Liberation Sans, Arial, sans-serif" font-size="14" fill="#2b7a32" textLength="59.2" lengthAdjust="spacingAndGlyphs">angulation</text>
<text x="255.3" y="133.6" font-family="Liberation Sans, Arial, sans-serif" font-size="14" fill="#4d6676" textLength="67.3" lengthAdjust="spacingAndGlyphs">divergence</text>
<text x="391" y="161.5" font-family="Liberation Sans, Arial, sans-serif" font-size="14" fill="#8a1a1a" textLength="51.3" lengthAdjust="spacingAndGlyphs">break up</text>
<g shape-rendering="crispEdges">
<rect x="4" y="269" width="3" height="1" fill="#0b650b"/>
<rect x="8" y="269" width="3" height="1" fill="#0b650b"/>
<rect x="12" y="269" width="3" height="1" fill="#0b650b"/>
<rect x="16" y="268" width="3" height="2" fill="#0b650b"/>
<rect x="20" y="269" width="3" height="1" fill="#0b650b"/>
<rect x="24" y="270" width="3" height="1" fill="#cf6a24"/>
<rect x="28" y="270" width="3" height="1" fill="#cf6a24"/>
<rect x="32" y="270" width="3" height="2" fill="#cf6a24"/>
<rect x="36" y="270" width="3" height="4" fill="#cf6a24"/>
<rect x="40" y="270" width="3" height="6" fill="#cf6a24"/>
<rect x="44" y="270" width="3" height="8" fill="#cf6a24"/>
<rect x="48" y="270" width="3" height="10" fill="#cf6a24"/>
<rect x="52" y="270" width="3" height="12" fill="#cf6a24"/>
<rect x="56" y="270" width="3" height="16" fill="#cf6a24"/>
<rect x="60" y="270" width="3" height="19" fill="#cf6a24"/>
<rect x="64" y="270" width="3" height="21" fill="#cf6a24"/>
<rect x="68" y="270" width="3" height="22" fill="#cf6a24"/>
<rect x="72" y="270" width="3" height="23" fill="#cf6a24"/>
<rect x="76" y="270" width="3" height="22" fill="#0b650b"/>
<rect x="80" y="270" width="3" height="20" fill="#0b650b"/>
<rect x="84" y="270" width="3" height="16" fill="#0b650b"/>
<rect x="88" y="270" width="3" height="13" fill="#0b650b"/>
<rect x="92" y="270" width="3" height="10" fill="#0b650b"/>
<rect x="96" y="270" width="3" height="7" fill="#0b650b"/>
<rect x="100" y="270" width="3" height="9" fill="#cf6a24"/>
<rect x="104" y="270" width="3" height="12" fill="#cf6a24"/>
<rect x="108" y="270" width="3" height="15" fill="#cf6a24"/>
<rect x="112" y="270" width="3" height="19" fill="#cf6a24"/>
<rect x="116" y="270" width="3" height="23" fill="#cf6a24"/>
<rect x="120" y="270" width="3" height="26" fill="#cf6a24"/>
<rect x="124" y="270" width="3" height="29" fill="#cf6a24"/>
<rect x="128" y="270" width="3" height="32" fill="#cf6a24"/>
<rect x="132" y="270" width="3" height="33" fill="#cf6a24"/>
<rect x="136" y="270" width="3" height="32" fill="#0b650b"/>
<rect x="140" y="270" width="3" height="31" fill="#0b650b"/>
<rect x="144" y="270" width="3" height="31" fill="#cf6a24"/>
<rect x="148" y="270" width="3" height="30" fill="#0b650b"/>
<rect x="152" y="270" width="3" height="30" fill="#0b650b"/>
<rect x="156" y="270" width="3" height="29" fill="#0b650b"/>
<rect x="160" y="270" width="3" height="27" fill="#0b650b"/>
<rect x="164" y="270" width="3" height="26" fill="#0b650b"/>
<rect x="168" y="270" width="3" height="26" fill="#0b650b"/>
<rect x="172" y="270" width="3" height="27" fill="#cf6a24"/>
<rect x="176" y="270" width="3" height="29" fill="#cf6a24"/>
<rect x="180" y="270" width="3" height="30" fill="#cf6a24"/>
<rect x="184" y="270" width="3" height="30" fill="#cf6a24"/>
<rect x="188" y="270" width="3" height="29" fill="#0b650b"/>
<rect x="192" y="270" width="3" height="26" fill="#0b650b"/>
<rect x="196" y="270" width="3" height="24" fill="#0b650b"/>
<rect x="200" y="270" width="3" height="21" fill="#0b650b"/>
<rect x="204" y="270" width="3" height="18" fill="#0b650b"/>
<rect x="208" y="270" width="3" height="18" fill="#cf6a24"/>
<rect x="212" y="270" width="3" height="19" fill="#cf6a24"/>
<rect x="216" y="270" width="3" height="19" fill="#0b650b"/>
<rect x="220" y="270" width="3" height="20" fill="#cf6a24"/>
<rect x="224" y="270" width="3" height="23" fill="#cf6a24"/>
<rect x="228" y="270" width="3" height="25" fill="#cf6a24"/>
<rect x="232" y="270" width="3" height="26" fill="#cf6a24"/>
<rect x="236" y="270" width="3" height="28" fill="#cf6a24"/>
<rect x="240" y="270" width="3" height="30" fill="#cf6a24"/>
<rect x="244" y="270" width="3" height="31" fill="#cf6a24"/>
<rect x="248" y="270" width="3" height="30" fill="#0b650b"/>
<rect x="252" y="270" width="3" height="28" fill="#0b650b"/>
<rect x="256" y="270" width="3" height="25" fill="#0b650b"/>
<rect x="260" y="270" width="3" height="20" fill="#0b650b"/>
<rect x="264" y="270" width="3" height="16" fill="#0b650b"/>
<rect x="268" y="270" width="3" height="12" fill="#0b650b"/>
<rect x="272" y="270" width="3" height="9" fill="#0b650b"/>
<rect x="276" y="270" width="3" height="4" fill="#0b650b"/>
<rect x="280" y="270" width="3" height="2" fill="#0b650b"/>
<rect x="284" y="270" width="3" height="2" fill="#0b650b"/>
<rect x="288" y="270" width="3" height="2" fill="#cf6a24"/>
<rect x="292" y="270" width="3" height="2" fill="#0b650b"/>
<rect x="296" y="270" width="3" height="2" fill="#cf6a24"/>
<rect x="300" y="270" width="3" height="2" fill="#cf6a24"/>
<rect x="304" y="270" width="3" height="2" fill="#0b650b"/>
<rect x="308" y="270" width="3" height="4" fill="#cf6a24"/>
<rect x="312" y="270" width="3" height="4" fill="#cf6a24"/>
<rect x="316" y="270" width="3" height="8" fill="#cf6a24"/>
<rect x="320" y="270" width="3" height="11" fill="#cf6a24"/>
<rect x="324" y="270" width="3" height="15" fill="#cf6a24"/>
<rect x="328" y="270" width="3" height="18" fill="#cf6a24"/>
<rect x="332" y="270" width="3" height="19" fill="#cf6a24"/>
<rect x="336" y="270" width="3" height="16" fill="#0b650b"/>
<rect x="340" y="270" width="3" height="11" fill="#0b650b"/>
<rect x="344" y="270" width="3" height="6" fill="#0b650b"/>
<rect x="348" y="270" width="3" height="4" fill="#0b650b"/>
<rect x="352" y="270" width="3" height="4" fill="#0b650b"/>
<rect x="356" y="270" width="3" height="4" fill="#cf6a24"/>
<rect x="360" y="270" width="3" height="6" fill="#cf6a24"/>
<rect x="364" y="270" width="3" height="8" fill="#cf6a24"/>
<rect x="368" y="270" width="3" height="8" fill="#cf6a24"/>
<rect x="372" y="270" width="3" height="8" fill="#cf6a24"/>
<rect x="376" y="270" width="3" height="8" fill="#cf6a24"/>
<rect x="380" y="270" width="3" height="8" fill="#cf6a24"/>
<rect x="384" y="270" width="3" height="8" fill="#cf6a24"/>
<rect x="388" y="270" width="3" height="8" fill="#0b650b"/>
<rect x="392" y="270" width="3" height="8" fill="#0b650b"/>
<rect x="396" y="270" width="3" height="8" fill="#cf6a24"/>
<rect x="400" y="270" width="3" height="7" fill="#cf6a24"/>
<rect x="404" y="270" width="3" height="5" fill="#0b650b"/>
<rect x="408" y="270" width="3" height="4" fill="#0b650b"/>
<rect x="412" y="270" width="3" height="3" fill="#0b650b"/>
<rect x="416" y="270" width="3" height="3" fill="#0b650b"/>
<rect x="420" y="270" width="3" height="4" fill="#cf6a24"/>
<rect x="424" y="270" width="3" height="5" fill="#cf6a24"/>
<rect x="428" y="270" width="3" height="4" fill="#0b650b"/>
<rect x="432" y="270" width="3" height="1" fill="#0b650b"/>
<rect x="436" y="268" width="3" height="2" fill="#0b650b"/>
<rect x="440" y="266" width="3" height="4" fill="#0b650b"/>
<rect x="444" y="265" width="3" height="5" fill="#0b650b"/>
<rect x="448" y="266" width="3" height="4" fill="#cf6a24"/>
<rect x="452" y="268" width="3" height="2" fill="#cf6a24"/>
<rect x="456" y="270" width="3" height="1" fill="#cf6a24"/>
<rect x="460" y="270" width="3" height="3" fill="#cf6a24"/>
<rect x="464" y="270" width="3" height="4" fill="#cf6a24"/>
<rect x="468" y="270" width="3" height="5" fill="#cf6a24"/>
<rect x="472" y="270" width="3" height="4" fill="#0b650b"/>
<rect x="35" y="270" width="1" height="2" fill="#fdf0c8"/>
<rect x="39" y="270" width="1" height="4" fill="#fdf0c8"/>
<rect x="43" y="270" width="1" height="6" fill="#fdf0c8"/>
<rect x="47" y="270" width="1" height="8" fill="#fdf0c8"/>
<rect x="51" y="270" width="1" height="10" fill="#fdf0c8"/>
<rect x="55" y="270" width="1" height="12" fill="#fdf0c8"/>
<rect x="59" y="270" width="1" height="16" fill="#fdf0c8"/>
<rect x="63" y="270" width="1" height="19" fill="#fdf0c8"/>
<rect x="67" y="270" width="1" height="21" fill="#fdf0c8"/>
<rect x="71" y="270" width="1" height="22" fill="#fdf0c8"/>
<rect x="79" y="270" width="1" height="20" fill="#c9eec9"/>
<rect x="83" y="270" width="1" height="16" fill="#c9eec9"/>
<rect x="87" y="270" width="1" height="13" fill="#c9eec9"/>
<rect x="91" y="270" width="1" height="10" fill="#c9eec9"/>
<rect x="95" y="270" width="1" height="7" fill="#c9eec9"/>
<rect x="103" y="270" width="1" height="9" fill="#fdf0c8"/>
<rect x="107" y="270" width="1" height="12" fill="#fdf0c8"/>
<rect x="111" y="270" width="1" height="15" fill="#fdf0c8"/>
<rect x="115" y="270" width="1" height="19" fill="#fdf0c8"/>
<rect x="119" y="270" width="1" height="23" fill="#fdf0c8"/>
<rect x="123" y="270" width="1" height="26" fill="#fdf0c8"/>
<rect x="127" y="270" width="1" height="29" fill="#fdf0c8"/>
<rect x="131" y="270" width="1" height="32" fill="#fdf0c8"/>
<rect x="139" y="270" width="1" height="31" fill="#c9eec9"/>
<rect x="151" y="270" width="1" height="30" fill="#c9eec9"/>
<rect x="155" y="270" width="1" height="29" fill="#c9eec9"/>
<rect x="159" y="270" width="1" height="27" fill="#c9eec9"/>
<rect x="163" y="270" width="1" height="26" fill="#c9eec9"/>
<rect x="167" y="270" width="1" height="26" fill="#c9eec9"/>
<rect x="175" y="270" width="1" height="27" fill="#fdf0c8"/>
<rect x="179" y="270" width="1" height="29" fill="#fdf0c8"/>
<rect x="183" y="270" width="1" height="30" fill="#fdf0c8"/>
<rect x="191" y="270" width="1" height="26" fill="#c9eec9"/>
<rect x="195" y="270" width="1" height="24" fill="#c9eec9"/>
<rect x="199" y="270" width="1" height="21" fill="#c9eec9"/>
<rect x="203" y="270" width="1" height="18" fill="#c9eec9"/>
<rect x="211" y="270" width="1" height="18" fill="#fdf0c8"/>
<rect x="223" y="270" width="1" height="20" fill="#fdf0c8"/>
<rect x="227" y="270" width="1" height="23" fill="#fdf0c8"/>
<rect x="231" y="270" width="1" height="25" fill="#fdf0c8"/>
<rect x="235" y="270" width="1" height="26" fill="#fdf0c8"/>
<rect x="239" y="270" width="1" height="28" fill="#fdf0c8"/>
<rect x="243" y="270" width="1" height="30" fill="#fdf0c8"/>
<rect x="251" y="270" width="1" height="28" fill="#c9eec9"/>
<rect x="255" y="270" width="1" height="25" fill="#c9eec9"/>
<rect x="259" y="270" width="1" height="20" fill="#c9eec9"/>
<rect x="263" y="270" width="1" height="16" fill="#c9eec9"/>
<rect x="267" y="270" width="1" height="12" fill="#c9eec9"/>
<rect x="271" y="270" width="1" height="9" fill="#c9eec9"/>
<rect x="275" y="270" width="1" height="4" fill="#c9eec9"/>
<rect x="279" y="270" width="1" height="2" fill="#c9eec9"/>
<rect x="283" y="270" width="1" height="2" fill="#c9eec9"/>
<rect x="299" y="270" width="1" height="2" fill="#fdf0c8"/>
<rect x="311" y="270" width="1" height="4" fill="#fdf0c8"/>
<rect x="315" y="270" width="1" height="4" fill="#fdf0c8"/>
<rect x="319" y="270" width="1" height="8" fill="#fdf0c8"/>
<rect x="323" y="270" width="1" height="11" fill="#fdf0c8"/>
<rect x="327" y="270" width="1" height="15" fill="#fdf0c8"/>
<rect x="331" y="270" width="1" height="18" fill="#fdf0c8"/>
<rect x="339" y="270" width="1" height="11" fill="#c9eec9"/>
<rect x="343" y="270" width="1" height="6" fill="#c9eec9"/>
<rect x="347" y="270" width="1" height="4" fill="#c9eec9"/>
<rect x="351" y="270" width="1" height="4" fill="#c9eec9"/>
<rect x="359" y="270" width="1" height="4" fill="#fdf0c8"/>
<rect x="363" y="270" width="1" height="6" fill="#fdf0c8"/>
<rect x="367" y="270" width="1" height="8" fill="#fdf0c8"/>
<rect x="371" y="270" width="1" height="8" fill="#fdf0c8"/>
<rect x="375" y="270" width="1" height="8" fill="#fdf0c8"/>
<rect x="379" y="270" width="1" height="8" fill="#fdf0c8"/>
<rect x="383" y="270" width="1" height="8" fill="#fdf0c8"/>
<rect x="391" y="270" width="1" height="8" fill="#c9eec9"/>
<rect x="399" y="270" width="1" height="7" fill="#fdf0c8"/>
<rect x="407" y="270" width="1" height="4" fill="#c9eec9"/>
<rect x="411" y="270" width="1" height="3" fill="#c9eec9"/>
<rect x="415" y="270" width="1" height="3" fill="#c9eec9"/>
<rect x="423" y="270" width="1" height="4" fill="#fdf0c8"/>
<rect x="463" y="270" width="1" height="3" fill="#fdf0c8"/>
<rect x="467" y="270" width="1" height="4" fill="#fdf0c8"/>
</g>
<line x1="245.6" y1="301.4" x2="433.8" y2="276.1" stroke="#2f4f4f" stroke-width="2"/>
<text x="341" y="295.3" font-family="Liberation Sans, Arial, sans-serif" font-size="14" fill="#78897c" textLength="40.2" lengthAdjust="spacingAndGlyphs">saucer</text>
<g shape-rendering="crispEdges">
<rect x="4" y="321" width="3" height="6" fill="#d81f45"/>
<rect x="8" y="322" width="3" height="5" fill="#d81f45"/>
<rect x="12" y="322" width="3" height="5" fill="#0d7a0d"/>
<rect x="16" y="323" width="3" height="4" fill="#d81f45"/>
<rect x="20" y="326" width="3" height="1" fill="#d81f45"/>
<rect x="24" y="327" width="3" height="4" fill="#d81f45"/>
<rect x="28" y="327" width="3" height="6" fill="#d81f45"/>
<rect x="32" y="327" width="3" height="7" fill="#d81f45"/>
<rect x="36" y="327" width="3" height="6" fill="#0d7a0d"/>
<rect x="40" y="327" width="3" height="5" fill="#0d7a0d"/>
<rect x="44" y="327" width="3" height="6" fill="#d81f45"/>
<rect x="48" y="327" width="3" height="8" fill="#d81f45"/>
<rect x="52" y="327" width="3" height="9" fill="#d81f45"/>
<rect x="56" y="327" width="3" height="11" fill="#d81f45"/>
<rect x="60" y="327" width="3" height="12" fill="#d81f45"/>
<rect x="64" y="327" width="3" height="10" fill="#0d7a0d"/>
<rect x="68" y="327" width="3" height="8" fill="#0d7a0d"/>
<rect x="72" y="327" width="3" height="6" fill="#0d7a0d"/>
<rect x="76" y="327" width="3" height="3" fill="#0d7a0d"/>
<rect x="80" y="323" width="3" height="4" fill="#0d7a0d"/>
<rect x="84" y="318" width="3" height="9" fill="#0d7a0d"/>
<rect x="88" y="316" width="3" height="11" fill="#0d7a0d"/>
<rect x="92" y="314" width="3" height="13" fill="#0d7a0d"/>
<rect x="96" y="315" width="3" height="12" fill="#d81f45"/>
<rect x="100" y="323" width="3" height="4" fill="#d81f45"/>
<rect x="104" y="327" width="3" height="4" fill="#d81f45"/>
<rect x="108" y="327" width="3" height="9" fill="#d81f45"/>
<rect x="112" y="327" width="3" height="14" fill="#d81f45"/>
<rect x="116" y="327" width="3" height="16" fill="#d81f45"/>
<rect x="120" y="327" width="3" height="15" fill="#0d7a0d"/>
<rect x="124" y="327" width="3" height="14" fill="#0d7a0d"/>
<rect x="128" y="327" width="3" height="13" fill="#0d7a0d"/>
<rect x="132" y="327" width="3" height="9" fill="#0d7a0d"/>
<rect x="136" y="327" width="3" height="4" fill="#0d7a0d"/>
<rect x="140" y="326" width="3" height="1" fill="#0d7a0d"/>
<rect x="144" y="326" width="3" height="1" fill="#0d7a0d"/>
<rect x="148" y="326" width="3" height="1" fill="#0d7a0d"/>
<rect x="152" y="326" width="3" height="1" fill="#d81f45"/>
<rect x="156" y="323" width="3" height="4" fill="#0d7a0d"/>
<rect x="160" y="322" width="3" height="5" fill="#0d7a0d"/>
<rect x="164" y="322" width="3" height="5" fill="#0d7a0d"/>
<rect x="168" y="323" width="3" height="4" fill="#d81f45"/>
<rect x="172" y="326" width="3" height="1" fill="#d81f45"/>
<rect x="176" y="327" width="3" height="4" fill="#d81f45"/>
<rect x="180" y="327" width="3" height="6" fill="#d81f45"/>
<rect x="184" y="327" width="3" height="5" fill="#0d7a0d"/>
<rect x="188" y="326" width="3" height="1" fill="#0d7a0d"/>
<rect x="192" y="321" width="3" height="6" fill="#0d7a0d"/>
<rect x="196" y="319" width="3" height="8" fill="#0d7a0d"/>
<rect x="200" y="317" width="3" height="10" fill="#0d7a0d"/>
<rect x="204" y="315" width="3" height="12" fill="#0d7a0d"/>
<rect x="208" y="320" width="3" height="7" fill="#d81f45"/>
<rect x="212" y="325" width="3" height="2" fill="#d81f45"/>
<rect x="216" y="326" width="3" height="1" fill="#d81f45"/>
<rect x="220" y="327" width="3" height="4" fill="#d81f45"/>
<rect x="224" y="327" width="3" height="8" fill="#d81f45"/>
<rect x="228" y="327" width="3" height="8" fill="#d81f45"/>
<rect x="232" y="327" width="3" height="6" fill="#0d7a0d"/>
<rect x="236" y="327" width="3" height="8" fill="#d81f45"/>
<rect x="240" y="327" width="3" height="8" fill="#d81f45"/>
<rect x="244" y="327" width="3" height="6" fill="#0d7a0d"/>
<rect x="248" y="327" width="3" height="3" fill="#0d7a0d"/>
<rect x="252" y="324" width="3" height="3" fill="#0d7a0d"/>
<rect x="256" y="319" width="3" height="8" fill="#0d7a0d"/>
<rect x="260" y="314" width="3" height="13" fill="#0d7a0d"/>
<rect x="264" y="311" width="3" height="16" fill="#0d7a0d"/>
<rect x="268" y="309" width="3" height="18" fill="#0d7a0d"/>
<rect x="272" y="310" width="3" height="17" fill="#d81f45"/>
<rect x="276" y="312" width="3" height="15" fill="#d81f45"/>
<rect x="280" y="314" width="3" height="13" fill="#d81f45"/>
<rect x="284" y="319" width="3" height="8" fill="#d81f45"/>
<rect x="288" y="323" width="3" height="4" fill="#d81f45"/>
<rect x="292" y="324" width="3" height="3" fill="#d81f45"/>
<rect x="296" y="326" width="3" height="1" fill="#d81f45"/>
<rect x="300" y="327" width="3" height="2" fill="#d81f45"/>
<rect x="304" y="327" width="3" height="1" fill="#0d7a0d"/>
<rect x="308" y="327" width="3" height="2" fill="#d81f45"/>
<rect x="312" y="327" width="3" height="3" fill="#d81f45"/>
<rect x="316" y="327" width="3" height="8" fill="#d81f45"/>
<rect x="320" y="327" width="3" height="12" fill="#d81f45"/>
<rect x="324" y="327" width="3" height="14" fill="#d81f45"/>
<rect x="328" y="327" width="3" height="14" fill="#0d7a0d"/>
<rect x="332" y="327" width="3" height="10" fill="#0d7a0d"/>
<rect x="336" y="326" width="3" height="1" fill="#0d7a0d"/>
<rect x="340" y="316" width="3" height="11" fill="#0d7a0d"/>
<rect x="344" y="312" width="3" height="15" fill="#0d7a0d"/>
<rect x="348" y="312" width="3" height="15" fill="#d81f45"/>
<rect x="352" y="318" width="3" height="9" fill="#d81f45"/>
<rect x="356" y="324" width="3" height="3" fill="#d81f45"/>
<rect x="360" y="327" width="3" height="4" fill="#d81f45"/>
<rect x="364" y="327" width="3" height="5" fill="#d81f45"/>
<rect x="368" y="327" width="3" height="4" fill="#0d7a0d"/>
<rect x="372" y="327" width="3" height="3" fill="#0d7a0d"/>
<rect x="376" y="327" width="3" height="1" fill="#0d7a0d"/>
<rect x="380" y="327" width="3" height="1" fill="#d81f45"/>
<rect x="384" y="327" width="3" height="1" fill="#d81f45"/>
<rect x="388" y="327" width="3" height="1" fill="#d81f45"/>
<rect x="392" y="327" width="3" height="1" fill="#d81f45"/>
<rect x="396" y="327" width="3" height="1" fill="#d81f45"/>
<rect x="400" y="324" width="3" height="3" fill="#0d7a0d"/>
<rect x="404" y="322" width="3" height="5" fill="#0d7a0d"/>
<rect x="408" y="322" width="3" height="5" fill="#0d7a0d"/>
<rect x="412" y="321" width="3" height="6" fill="#0d7a0d"/>
<rect x="416" y="323" width="3" height="4" fill="#d81f45"/>
<rect x="420" y="326" width="3" height="1" fill="#d81f45"/>
<rect x="424" y="327" width="3" height="3" fill="#d81f45"/>
<rect x="428" y="327" width="3" height="1" fill="#0d7a0d"/>
<rect x="432" y="323" width="3" height="4" fill="#0d7a0d"/>
<rect x="436" y="320" width="3" height="7" fill="#0d7a0d"/>
<rect x="440" y="318" width="3" height="9" fill="#0d7a0d"/>
<rect x="444" y="319" width="3" height="8" fill="#d81f45"/>
<rect x="448" y="323" width="3" height="4" fill="#d81f45"/>
<rect x="452" y="327" width="3" height="3" fill="#d81f45"/>
<rect x="456" y="327" width="3" height="6" fill="#d81f45"/>
<rect x="460" y="327" width="3" height="8" fill="#d81f45"/>
<rect x="464" y="327" width="3" height="7" fill="#0d7a0d"/>
<rect x="468" y="327" width="3" height="5" fill="#0d7a0d"/>
<rect x="472" y="326" width="3" height="1" fill="#0d7a0d"/>
<rect x="7" y="322" width="1" height="5" fill="#fbd6de"/>
<rect x="27" y="327" width="1" height="4" fill="#fbd6de"/>
<rect x="31" y="327" width="1" height="6" fill="#fbd6de"/>
<rect x="39" y="327" width="1" height="5" fill="#c9eec9"/>
<rect x="47" y="327" width="1" height="6" fill="#fbd6de"/>
<rect x="51" y="327" width="1" height="8" fill="#fbd6de"/>
<rect x="55" y="327" width="1" height="9" fill="#fbd6de"/>
<rect x="59" y="327" width="1" height="11" fill="#fbd6de"/>
<rect x="67" y="327" width="1" height="8" fill="#c9eec9"/>
<rect x="71" y="327" width="1" height="6" fill="#c9eec9"/>
<rect x="75" y="327" width="1" height="3" fill="#c9eec9"/>
<rect x="83" y="323" width="1" height="4" fill="#c9eec9"/>
<rect x="87" y="318" width="1" height="9" fill="#c9eec9"/>
<rect x="91" y="316" width="1" height="11" fill="#c9eec9"/>
<rect x="99" y="323" width="1" height="4" fill="#fbd6de"/>
<rect x="107" y="327" width="1" height="4" fill="#fbd6de"/>
<rect x="111" y="327" width="1" height="9" fill="#fbd6de"/>
<rect x="115" y="327" width="1" height="14" fill="#fbd6de"/>
<rect x="123" y="327" width="1" height="14" fill="#c9eec9"/>
<rect x="127" y="327" width="1" height="13" fill="#c9eec9"/>
<rect x="131" y="327" width="1" height="9" fill="#c9eec9"/>
<rect x="135" y="327" width="1" height="4" fill="#c9eec9"/>
<rect x="159" y="323" width="1" height="4" fill="#c9eec9"/>
<rect x="163" y="322" width="1" height="5" fill="#c9eec9"/>
<rect x="179" y="327" width="1" height="4" fill="#fbd6de"/>
<rect x="195" y="321" width="1" height="6" fill="#c9eec9"/>
<rect x="199" y="319" width="1" height="8" fill="#c9eec9"/>
<rect x="203" y="317" width="1" height="10" fill="#c9eec9"/>
<rect x="211" y="325" width="1" height="2" fill="#fbd6de"/>
<rect x="223" y="327" width="1" height="4" fill="#fbd6de"/>
<rect x="227" y="327" width="1" height="8" fill="#fbd6de"/>
<rect x="239" y="327" width="1" height="8" fill="#fbd6de"/>
<rect x="247" y="327" width="1" height="3" fill="#c9eec9"/>
<rect x="255" y="324" width="1" height="3" fill="#c9eec9"/>
<rect x="259" y="319" width="1" height="8" fill="#c9eec9"/>
<rect x="263" y="314" width="1" height="13" fill="#c9eec9"/>
<rect x="267" y="311" width="1" height="16" fill="#c9eec9"/>
<rect x="275" y="312" width="1" height="15" fill="#fbd6de"/>
<rect x="279" y="314" width="1" height="13" fill="#fbd6de"/>
<rect x="283" y="319" width="1" height="8" fill="#fbd6de"/>
<rect x="287" y="323" width="1" height="4" fill="#fbd6de"/>
<rect x="291" y="324" width="1" height="3" fill="#fbd6de"/>
<rect x="311" y="327" width="1" height="2" fill="#fbd6de"/>
<rect x="315" y="327" width="1" height="3" fill="#fbd6de"/>
<rect x="319" y="327" width="1" height="8" fill="#fbd6de"/>
<rect x="323" y="327" width="1" height="12" fill="#fbd6de"/>
<rect x="331" y="327" width="1" height="10" fill="#c9eec9"/>
<rect x="343" y="316" width="1" height="11" fill="#c9eec9"/>
<rect x="351" y="318" width="1" height="9" fill="#fbd6de"/>
<rect x="355" y="324" width="1" height="3" fill="#fbd6de"/>
<rect x="363" y="327" width="1" height="4" fill="#fbd6de"/>
<rect x="371" y="327" width="1" height="3" fill="#c9eec9"/>
<rect x="403" y="324" width="1" height="3" fill="#c9eec9"/>
<rect x="407" y="322" width="1" height="5" fill="#c9eec9"/>
<rect x="411" y="322" width="1" height="5" fill="#c9eec9"/>
<rect x="435" y="323" width="1" height="4" fill="#c9eec9"/>
<rect x="439" y="320" width="1" height="7" fill="#c9eec9"/>
<rect x="447" y="323" width="1" height="4" fill="#fbd6de"/>
<rect x="455" y="327" width="1" height="3" fill="#fbd6de"/>
<rect x="459" y="327" width="1" height="6" fill="#fbd6de"/>
<rect x="467" y="327" width="1" height="5" fill="#c9eec9"/>
</g>
<g shape-rendering="crispEdges">
<rect x="5" y="366" width="1" height="14" fill="#10109a"/>
<rect x="7" y="367" width="4" height="13" fill="#d81f45"/>
<rect x="12" y="370" width="3" height="10" fill="#c28d1c"/>
<rect x="16" y="359" width="3" height="21" fill="#2e8b57"/>
<rect x="19" y="361" width="4" height="19" fill="#d81f45"/>
<rect x="25" y="358" width="1" height="22" fill="#10109a"/>
<rect x="28" y="367" width="3" height="13" fill="#c28d1c"/>
<rect x="31" y="371" width="4" height="9" fill="#d81f45"/>
<rect x="36" y="367" width="3" height="13" fill="#2e8b57"/>
<rect x="41" y="362" width="1" height="18" fill="#10109a"/>
<rect x="43" y="367" width="4" height="13" fill="#d81f45"/>
<rect x="49" y="363" width="1" height="17" fill="#10109a"/>
<rect x="51" y="366" width="4" height="14" fill="#d81f45"/>
<rect x="56" y="358" width="3" height="22" fill="#2e8b57"/>
<rect x="60" y="370" width="3" height="10" fill="#c28d1c"/>
<rect x="64" y="365" width="3" height="15" fill="#2e8b57"/>
<rect x="68" y="367" width="3" height="13" fill="#c28d1c"/>
<rect x="73" y="367" width="1" height="13" fill="#10109a"/>
<rect x="75" y="369" width="4" height="11" fill="#d81f45"/>
<rect x="80" y="359" width="3" height="21" fill="#2e8b57"/>
<rect x="84" y="363" width="3" height="17" fill="#c28d1c"/>
<rect x="87" y="365" width="4" height="15" fill="#d81f45"/>
<rect x="92" y="362" width="3" height="18" fill="#2e8b57"/>
<rect x="95" y="371" width="4" height="9" fill="#d81f45"/>
<rect x="100" y="367" width="3" height="13" fill="#2e8b57"/>
<rect x="105" y="367" width="1" height="13" fill="#10109a"/>
<rect x="109" y="366" width="1" height="14" fill="#10109a"/>
<rect x="111" y="370" width="4" height="10" fill="#d81f45"/>
<rect x="116" y="368" width="3" height="12" fill="#2e8b57"/>
<rect x="121" y="366" width="1" height="14" fill="#10109a"/>
<rect x="125" y="360" width="1" height="20" fill="#10109a"/>
<rect x="127" y="371" width="4" height="9" fill="#d81f45"/>
<rect x="133" y="365" width="1" height="15" fill="#10109a"/>
<rect x="137" y="363" width="1" height="17" fill="#10109a"/>
<rect x="139" y="369" width="4" height="11" fill="#d81f45"/>
<rect x="145" y="362" width="1" height="18" fill="#10109a"/>
<rect x="148" y="372" width="3" height="8" fill="#c28d1c"/>
<rect x="153" y="361" width="1" height="19" fill="#10109a"/>
<rect x="155" y="370" width="4" height="10" fill="#d81f45"/>
<rect x="160" y="366" width="3" height="14" fill="#2e8b57"/>
<rect x="163" y="367" width="4" height="13" fill="#d81f45"/>
<rect x="169" y="364" width="1" height="16" fill="#10109a"/>
<rect x="172" y="368" width="3" height="12" fill="#c28d1c"/>
<rect x="176" y="371" width="3" height="9" fill="#c28d1c"/>
<rect x="181" y="369" width="1" height="11" fill="#10109a"/>
<rect x="183" y="370" width="4" height="10" fill="#d81f45"/>
<rect x="188" y="366" width="3" height="14" fill="#2e8b57"/>
<rect x="192" y="367" width="3" height="13" fill="#c28d1c"/>
<rect x="197" y="368" width="1" height="12" fill="#10109a"/>
<rect x="199" y="369" width="4" height="11" fill="#d81f45"/>
<rect x="205" y="365" width="1" height="15" fill="#10109a"/>
<rect x="208" y="359" width="3" height="21" fill="#2e8b57"/>
<rect x="212" y="363" width="3" height="17" fill="#c28d1c"/>
<rect x="216" y="367" width="3" height="13" fill="#c28d1c"/>
<rect x="219" y="368" width="4" height="12" fill="#d81f45"/>
<rect x="225" y="356" width="1" height="24" fill="#10109a"/>
<rect x="228" y="368" width="3" height="12" fill="#c28d1c"/>
<rect x="231" y="369" width="4" height="11" fill="#d81f45"/>
<rect x="236" y="365" width="3" height="15" fill="#2e8b57"/>
<rect x="240" y="371" width="3" height="9" fill="#c28d1c"/>
<rect x="245" y="355" width="1" height="25" fill="#10109a"/>
<rect x="247" y="372" width="4" height="8" fill="#d81f45"/>
<rect x="253" y="368" width="1" height="12" fill="#10109a"/>
<rect x="256" y="363" width="3" height="17" fill="#2e8b57"/>
<rect x="259" y="366" width="4" height="14" fill="#d81f45"/>
<rect x="264" y="367" width="3" height="13" fill="#c28d1c"/>
<rect x="268" y="374" width="3" height="6" fill="#c28d1c"/>
<rect x="272" y="364" width="3" height="16" fill="#2e8b57"/>
<rect x="277" y="365" width="1" height="15" fill="#10109a"/>
<rect x="280" y="360" width="3" height="20" fill="#2e8b57"/>
<rect x="284" y="362" width="3" height="18" fill="#c28d1c"/>
<rect x="288" y="362" width="3" height="18" fill="#2e8b57"/>
<rect x="292" y="375" width="3" height="5" fill="#c28d1c"/>
<rect x="297" y="371" width="1" height="9" fill="#10109a"/>
<rect x="301" y="367" width="1" height="13" fill="#10109a"/>
<rect x="304" y="365" width="3" height="15" fill="#2e8b57"/>
<rect x="307" y="371" width="4" height="9" fill="#d81f45"/>
<rect x="312" y="362" width="3" height="18" fill="#2e8b57"/>
<rect x="316" y="374" width="3" height="6" fill="#c28d1c"/>
<rect x="321" y="370" width="1" height="10" fill="#10109a"/>
<rect x="324" y="369" width="3" height="11" fill="#c28d1c"/>
<rect x="328" y="361" width="3" height="19" fill="#2e8b57"/>
<rect x="331" y="370" width="4" height="10" fill="#d81f45"/>
<rect x="337" y="359" width="1" height="21" fill="#10109a"/>
<rect x="340" y="367" width="3" height="13" fill="#c28d1c"/>
<rect x="344" y="363" width="3" height="17" fill="#2e8b57"/>
<rect x="347" y="367" width="4" height="13" fill="#d81f45"/>
<rect x="351" y="371" width="4" height="9" fill="#d81f45"/>
<rect x="356" y="371" width="3" height="9" fill="#c28d1c"/>
<rect x="361" y="366" width="1" height="14" fill="#10109a"/>
<rect x="365" y="365" width="1" height="15" fill="#10109a"/>
<rect x="367" y="367" width="4" height="13" fill="#d81f45"/>
<rect x="372" y="367" width="3" height="13" fill="#c28d1c"/>
<rect x="377" y="366" width="1" height="14" fill="#10109a"/>
<rect x="381" y="353" width="1" height="27" fill="#10109a"/>
<rect x="383" y="368" width="4" height="12" fill="#d81f45"/>
<rect x="387" y="373" width="4" height="7" fill="#d81f45"/>
<rect x="392" y="372" width="3" height="8" fill="#2e8b57"/>
<rect x="397" y="364" width="1" height="16" fill="#10109a"/>
<rect x="399" y="372" width="4" height="8" fill="#d81f45"/>
<rect x="405" y="369" width="1" height="11" fill="#10109a"/>
<rect x="407" y="371" width="4" height="9" fill="#d81f45"/>
<rect x="413" y="370" width="1" height="10" fill="#10109a"/>
<rect x="416" y="366" width="3" height="14" fill="#2e8b57"/>
<rect x="420" y="371" width="3" height="9" fill="#c28d1c"/>
<rect x="423" y="373" width="4" height="7" fill="#d81f45"/>
<rect x="428" y="365" width="3" height="15" fill="#2e8b57"/>
<rect x="432" y="369" width="3" height="11" fill="#c28d1c"/>
<rect x="437" y="364" width="1" height="16" fill="#10109a"/>
<rect x="439" y="370" width="4" height="10" fill="#d81f45"/>
<rect x="444" y="370" width="3" height="10" fill="#c28d1c"/>
<rect x="447" y="372" width="4" height="8" fill="#d81f45"/>
<rect x="452" y="363" width="3" height="17" fill="#2e8b57"/>
<rect x="456" y="363" width="3" height="17" fill="#c28d1c"/>
<rect x="460" y="370" width="3" height="10" fill="#c28d1c"/>
<rect x="463" y="371" width="4" height="9" fill="#d81f45"/>
<rect x="469" y="369" width="1" height="11" fill="#10109a"/>
<rect x="473" y="350" width="1" height="30" fill="#10109a"/>
</g>
<polygon points="5,375 5,380 10,380" fill="#7f8fa0"/>
<g fill="none" stroke="#000" stroke-width="1" shape-rendering="crispEdges">
<rect x="4.5" y="4.5" width="611" height="255"/>
<rect x="4.5" y="261.5" width="611" height="43"/>
<rect x="4.5" y="306.5" width="611" height="38"/>
<rect x="4.5" y="346.5" width="611" height="34"/>
</g>
<polygon points="463,5 472.5,5 467.7,10.3" fill="#6f8193"/>
<g fill="#000" shape-rendering="crispEdges">
<rect x="616" y="23" width="2" height="1"/>
<rect x="616" y="56" width="2" height="1"/>
<rect x="616" y="89" width="2" height="1"/>
<rect x="616" y="122" width="2" height="1"/>
<rect x="616" y="155" width="2" height="1"/>
<rect x="616" y="188" width="2" height="1"/>
<rect x="616" y="255" width="2" height="1"/>
<rect x="616" y="263" width="2" height="1"/>
<rect x="616" y="270" width="2" height="1"/>
<rect x="616" y="303" width="2" height="1"/>
<rect x="616" y="308" width="2" height="1"/>
<rect x="616" y="327" width="2" height="1"/>
<rect x="616" y="343" width="2" height="1"/>
<rect x="616" y="348" width="2" height="1"/>
<rect x="616" y="379" width="2" height="1"/>
<rect x="5" y="381" width="1" height="3"/>
<rect x="69" y="381" width="1" height="3"/>
<rect x="133" y="381" width="1" height="3"/>
<rect x="197" y="381" width="1" height="3"/>
<rect x="261" y="381" width="1" height="3"/>
<rect x="325" y="381" width="1" height="3"/>
<rect x="389" y="381" width="1" height="3"/>
<rect x="453" y="381" width="1" height="3"/>
</g>
<text x="621" y="25.6" font-family="Liberation Sans, Arial, sans-serif" font-size="9.4" fill="#000">0.8565</text>
<text x="621" y="58.6" font-family="Liberation Sans, Arial, sans-serif" font-size="9.4" fill="#000">0.8480</text>
<text x="621" y="91.6" font-family="Liberation Sans, Arial, sans-serif" font-size="9.4" fill="#000">0.8395</text>
<text x="621" y="124.6" font-family="Liberation Sans, Arial, sans-serif" font-size="9.4" fill="#000">0.8310</text>
<text x="621" y="157.6" font-family="Liberation Sans, Arial, sans-serif" font-size="9.4" fill="#000">0.8225</text>
<text x="621" y="190.6" font-family="Liberation Sans, Arial, sans-serif" font-size="9.4" fill="#000">0.8140</text>
<text x="621" y="257.6" font-family="Liberation Sans, Arial, sans-serif" font-size="9.4" fill="#000">0.7970</text>
<rect x="617" y="214" width="36" height="11" fill="#000"/>
<rect x="616" y="220" width="1" height="1" fill="#000"/>
<text x="621.5" y="222.9" font-family="Liberation Sans, Arial, sans-serif" font-size="9.4" fill="#fff">0.8059</text>
<text x="620" y="271.6" font-family="Liberation Sans, Arial, sans-serif" font-size="9.4" fill="#000" textLength="32.3" lengthAdjust="spacingAndGlyphs">0.00318</text>
<text x="620" y="271.6" font-family="Liberation Sans, Arial, sans-serif" font-size="9.4" fill="#000" font-weight="bold" textLength="17.5" lengthAdjust="spacingAndGlyphs">0.00</text>
<text x="619" y="300.6" font-family="Liberation Sans, Arial, sans-serif" font-size="9.4" fill="#000" textLength="35.3" lengthAdjust="spacingAndGlyphs">-0.01431</text>
<text x="620" y="316.6" font-family="Liberation Sans, Arial, sans-serif" font-size="9.4" fill="#000" textLength="32.3" lengthAdjust="spacingAndGlyphs">0.00409</text>
<text x="620" y="329.2" font-family="Liberation Sans, Arial, sans-serif" font-size="9.4" fill="#000">0.00</text>
<text x="619" y="340.7" font-family="Liberation Sans, Arial, sans-serif" font-size="9.4" fill="#000" textLength="35.3" lengthAdjust="spacingAndGlyphs">-0.00361</text>
<text x="620" y="356.7" font-family="Liberation Sans, Arial, sans-serif" font-size="9.4" fill="#000">0.034</text>
<text x="620" y="376.8" font-family="Liberation Sans, Arial, sans-serif" font-size="9.4" fill="#000">0</text>
<text x="10" y="15" font-family="Liberation Sans, Arial, sans-serif" font-size="9.4" fill="#000" textLength="180" lengthAdjust="spacing" xml:space="preserve">NZDUSD,H4  0.8084 0.8100 0.8059 0.8059</text>
<text x="10" y="274.2" font-family="Liberation Sans, Arial, sans-serif" font-size="9.4" fill="#000">AO -0.00113</text>
<text x="10" y="320" font-family="Liberation Sans, Arial, sans-serif" font-size="9.4" fill="#000" textLength="56.5" lengthAdjust="spacingAndGlyphs">AC -0.000156</text>
<text x="10" y="360.3" font-family="Liberation Sans, Arial, sans-serif" font-size="9.4" fill="#000">BW MFI 0.0324</text>
<g shape-rendering="crispEdges">
<rect x="0" y="0" width="657" height="1" fill="#a9a9a9"/><rect x="0" y="0" width="1" height="385" fill="#a9a9a9"/>
<rect x="1" y="1" width="654" height="1" fill="#6d6d6d"/><rect x="1" y="1" width="1" height="384" fill="#6d6d6d"/>
<rect x="655" y="1" width="1" height="384" fill="#e3e3e3"/>
<rect x="0" y="385" width="657" height="2" fill="#e6e6e6"/>
<rect x="70" y="387" width="587" height="13" fill="#f0f0f0"/>
<rect x="69" y="387" width="588" height="1" fill="#1e1e1e"/>
<rect x="69" y="387" width="1" height="13" fill="#555"/>
<rect x="0" y="387" width="69" height="13" fill="#fff"/>
<rect x="158" y="390" width="1" height="10" fill="#777"/>
<rect x="236" y="390" width="1" height="10" fill="#777"/>
<rect x="323" y="390" width="1" height="10" fill="#777"/>
<rect x="417" y="390" width="1" height="10" fill="#777"/>
<rect x="526" y="390" width="1" height="10" fill="#777"/>
<rect x="605" y="390" width="1" height="10" fill="#777"/>
</g>
<text x="1" y="400" font-family="Liberation Sans, Arial, sans-serif" font-size="11" fill="#000" textLength="57" lengthAdjust="spacingAndGlyphs">NZDUSD,H4</text>
<text x="79.5" y="400" font-family="Liberation Sans, Arial, sans-serif" font-size="11" fill="#74808f" textLength="66.8" lengthAdjust="spacingAndGlyphs">NZDUSD,Daily</text>
<text x="168.3" y="400" font-family="Liberation Sans, Arial, sans-serif" font-size="11" fill="#74808f" textLength="56.3" lengthAdjust="spacingAndGlyphs">NZDUSD,H1</text>
<text x="248.7" y="400" font-family="Liberation Sans, Arial, sans-serif" font-size="11" fill="#74808f" textLength="61.3" lengthAdjust="spacingAndGlyphs">USDCAD-,H1</text>
<text x="334" y="400" font-family="Liberation Sans, Arial, sans-serif" font-size="11" fill="#74808f" textLength="71.0" lengthAdjust="spacingAndGlyphs">USDCAD-,Daily</text>
<text x="429" y="400" font-family="Liberation Sans, Arial, sans-serif" font-size="11" fill="#74808f" textLength="84.5" lengthAdjust="spacingAndGlyphs">USDCAD-,Weekly</text>
<text x="536.5" y="400" font-family="Liberation Sans, Arial, sans-serif" font-size="11" fill="#74808f" textLength="57.0" lengthAdjust="spacingAndGlyphs">EURUSD,H4</text>
<text x="616" y="400" font-family="Liberation Sans, Arial, sans-serif" font-size="11" fill="#74808f" textLength="38.8" lengthAdjust="spacingAndGlyphs">NZDUSD</text>
</svg>
</body></html>
